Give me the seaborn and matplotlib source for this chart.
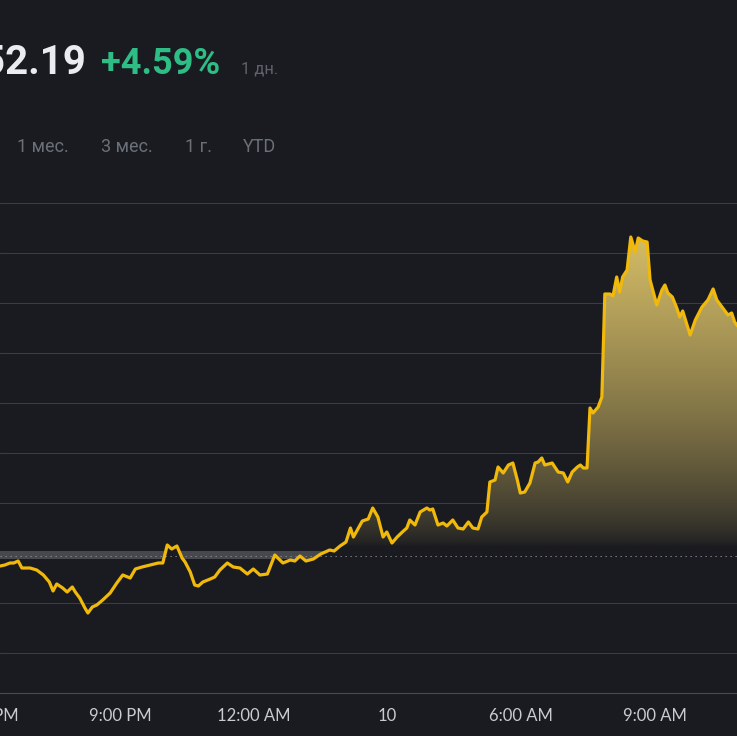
import numpy as np
import pandas as pd
import matplotlib
matplotlib.use("Agg")
import matplotlib.pyplot as plt
import matplotlib.colors as mcolors
import matplotlib.transforms as mtransforms
from matplotlib.path import Path
import seaborn as sns

# ---------------- data ----------------
# minutes since 6:00 PM
minutes = [18, 24, 31, 36, 42, 47, 58, 67, 76, 84, 89, 94, 102, 108, 115, 119, 125, 132, 136, 142,
           148, 156, 166, 175, 183, 193, 200, 209, 220, 231, 237, 243, 249, 256, 263, 267, 274, 280, 285, 291,
           301, 307, 314, 324, 332, 341, 351, 359, 368, 378, 388, 399, 409, 415, 422, 430, 440, 450, 462, 468,
           476, 484, 490, 494, 506, 514, 520, 527, 534, 539, 546, 553, 560, 566, 570, 577, 584, 593, 597, 601,
           608, 615, 620, 628, 635, 642, 649, 655, 662, 667, 674, 678, 685, 689, 696, 703, 709, 715, 719, 725,
           732, 739, 743, 748, 752, 762, 770, 777, 783, 789, 796, 800, 804, 809, 813, 817, 824, 829, 833, 840,
           844, 849, 853, 857, 863, 868, 874, 878, 884, 890, 894, 903, 910, 914, 918, 924, 930, 934, 938, 948,
           955, 964, 972, 979, 984, 992, 999, 1004, 1008, 1012]
prices = [622.7, 622.8, 623.0, 623.0, 623.2, 622.5, 622.5, 622.3, 621.8, 621.1, 620.2, 620.9, 620.5, 620.1, 620.6, 620.1, 619.5, 618.5, 618.0, 618.6,
          618.8, 619.3, 620.0, 621.0, 621.8, 621.5, 622.4, 622.6, 622.8, 623.0, 623.0, 624.8, 624.4, 624.7, 623.5, 623.1, 622.1, 620.8, 620.7, 621.1,
          621.4, 621.6, 622.3, 623.0, 622.6, 622.5, 621.9, 622.4, 621.8, 621.9, 623.8, 623.0, 623.3, 623.2, 623.7, 623.2, 623.4, 623.9, 624.3, 624.2,
          624.7, 625.1, 626.5, 625.6, 627.2, 627.4, 628.5, 627.6, 625.6, 626.1, 625.0, 625.6, 626.1, 626.5, 627.3, 626.8, 628.1, 628.5, 628.3, 628.4,
          626.8, 627.0, 626.7, 627.3, 626.5, 626.4, 627.1, 626.5, 626.4, 627.6, 628.1, 631.1, 631.3, 632.6, 632.0, 632.8, 633.0, 631.3, 630.0, 630.1,
          631.0, 633.0, 633.1, 633.5, 632.8, 633.0, 632.1, 632.0, 631.1, 632.1, 632.6, 632.8, 632.5, 632.5, 638.5, 638.0, 638.6, 639.6, 649.9, 649.9,
          649.7, 651.6, 650.1, 651.6, 652.3, 655.6, 654.1, 655.5, 655.2, 655.1, 651.3, 648.8, 650.3, 650.8, 650.0, 649.6, 648.5, 647.6, 648.2, 645.8,
          647.3, 648.6, 649.3, 650.4, 649.3, 648.5, 647.8, 648.0, 647.1, 646.7]
prev_close = 623.65

tick_minutes = [0, 180, 360, 540, 720, 900]
tick_labels = ["6:00 PM", "9:00 PM", "12:00 AM", "10", "6:00 AM", "9:00 AM"]
grid_levels = [614, 619, 624, 629, 634, 639, 644, 649, 654, 659]

price_text = "652.19"
change_text = "+4.59%"
period_text = "1 дн."
range_buttons = ["1 мес.", "3 мес.", "1 г.", "YTD"]

# ---------------- style ----------------
BG = "#1a1b20"
GRID = "#3b3d43"
BAND = "#46484e"
YELLOW = "#f0b90b"
GREEN = "#2ebd85"
W, H = 737, 736
X0, X1 = 17.5, 1011.2
Y0, Y1 = 610.0, 661.3

sns.set_style("dark")
plt.rcParams["font.family"] = ["Roboto", "DejaVu Sans"]

fig = plt.figure(figsize=(W / 100, H / 100), dpi=100, facecolor=BG)
ax = fig.add_axes([0, (H - 693) / H, 1, (693 - 180) / H])
ax.set_facecolor(BG)

df = pd.DataFrame({"t": minutes, "price": prices})

for g in grid_levels:
    ax.axhline(g, color=GRID, lw=0.8, zorder=1)
ax.axhspan(prev_close - 0.3, 624.15, color=BAND, lw=0, zorder=1.5)

# gradient area above previous close
poly = ax.fill_between(df["t"], df["price"], prev_close - 0.35, where=df["price"] >= prev_close,
                       interpolate=True, facecolor="none", edgecolor="none", zorder=2)
clip = Path.make_compound_path(*poly.get_paths())
ymax = max(prices)
ys = np.linspace(prev_close - 0.35, ymax, 400)
f = (ys - prev_close) / (ymax - prev_close)
f = np.clip((f - 0.03) / 0.97, 0, 1) ** 0.7
top = np.array([212, 188, 102]) / 255
bgc = np.array(mcolors.to_rgb(BG))
img = (bgc + f[:, None] * (top - bgc))[:, None, :]
im = ax.imshow(img, extent=[X0, X1 + 5, prev_close - 0.35, ymax], origin="lower", aspect="auto",
               interpolation="bilinear", zorder=2)
im.set_clip_path(clip, ax.transData)

ax.axhline(prev_close, color="#8d8f94", lw=0.75, dashes=(1.2, 3.6), zorder=3)

sns.lineplot(data=df, x="t", y="price", color=YELLOW, lw=2.3, ax=ax, zorder=4,
             estimator=None, sort=False)
for ln in ax.lines[-1:]:
    ln.set_solid_joinstyle("round")
    ln.set_solid_capstyle("round")

ax.set_xlim(X0, X1)
ax.set_ylim(Y0, Y1)
ax.set_xlabel("")
ax.set_ylabel("")
ax.set_yticks([])
ax.set_xticks([m for m in tick_minutes if X0 <= m <= X1])
ax.tick_params(axis="x", length=3, width=0.8, color="#9a9ca0", labelbottom=False, direction="out")
ax.grid(False)
for s in ["top", "left", "right"]:
    ax.spines[s].set_visible(False)
ax.spines["bottom"].set_color("#4a4c52")
ax.spines["bottom"].set_linewidth(0.8)

trans = mtransforms.blended_transform_factory(ax.transData, fig.transFigure)
for m, lab in zip(tick_minutes, tick_labels):
    ax.text(m, 1 - 716 / H, lab, transform=trans, ha="center", va="center",
            fontsize=12, color="#c9cbcf", family=["Lato", "DejaVu Sans"])

# header texts
fig.text(86 / W, 1 - 74 / H, price_text, ha="right", va="baseline", fontsize=29,
         fontweight="bold", color="#eaecef")
fig.text(101 / W, 1 - 74 / H, change_text, ha="left", va="baseline", fontsize=26,
         fontweight="bold", color=GREEN)
fig.text(241 / W, 1 - 74 / H, period_text, ha="left", va="baseline", fontsize=12,
         color="#5e626b")
for xp, lab in zip([17, 101, 185, 243], range_buttons):
    fig.text(xp / W, 1 - 152 / H, lab, ha="left", va="baseline", fontsize=13, color="#6b6f78")

fig.savefig("out.png", dpi=100, facecolor=BG)
